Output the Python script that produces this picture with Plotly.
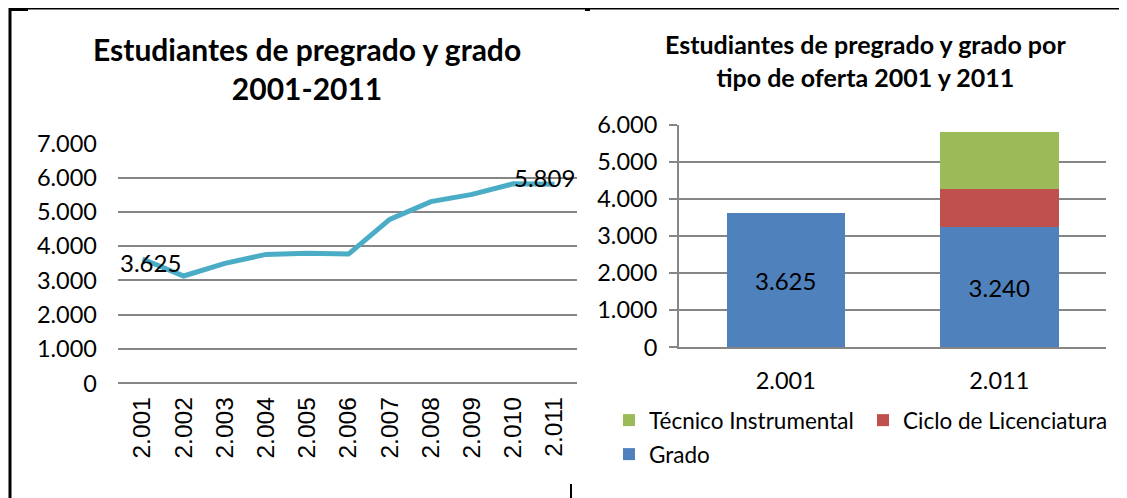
import plotly.graph_objects as go

W, H = 1127, 498
OX, OY = 8, 8  # page body margin offset

# ---- data ----
years = ["2.001", "2.002", "2.003", "2.004", "2.005", "2.006",
         "2.007", "2.008", "2.009", "2.010", "2.011"]
students = [3625, 3130, 3500, 3760, 3790, 3770, 4780, 5300, 5510, 5820, 5809]

bar_years = ["2.001", "2.011"]
grado = [3625, 3240]
ciclo = [0, 1024]
tecnico = [0, 1545]

left_yticks = [0, 1000, 2000, 3000, 4000, 5000, 6000, 7000]
right_yticks = [0, 1000, 2000, 3000, 4000, 5000, 6000]

FONT = "Lato"
GRID = "#868686"
TICK = 23.5


def px(x):
    return (x - OX) / W


def py(y):
    return 1 - (y - OY) / H


def fmt(v):
    return f"{v:,}".replace(",", ".")


fig = go.Figure()

fig.add_trace(go.Scatter(
    x=years, y=students, mode="lines",
    line=dict(color="#4BACC6", width=5), xaxis="x", yaxis="y",
    showlegend=False, hoverinfo="skip"))

fig.add_trace(go.Bar(
    x=bar_years, y=grado, name="Grado", marker_color="#4F81BD",
    marker_line_width=0, legend="legend3",
    text=[fmt(v) for v in grado],
    texttemplate="%{text}", textposition="inside", insidetextanchor="middle",
    textfont=dict(family=FONT, size=24, color="black"),
    xaxis="x2", yaxis="y2", hoverinfo="skip"))
fig.add_trace(go.Bar(
    x=bar_years, y=ciclo, name="Ciclo de Licenciatura", marker_color="#C0504D",
    marker_line_width=0, legend="legend2",
    xaxis="x2", yaxis="y2", hoverinfo="skip"))
fig.add_trace(go.Bar(
    x=bar_years, y=tecnico, name="Técnico Instrumental", marker_color="#9BBB59",
    marker_line_width=0, legend="legend",
    xaxis="x2", yaxis="y2", hoverinfo="skip"))

annotations = [
    dict(text="<b>Estudiantes de pregrado y grado<br>2001-2011</b>",
         x=px(307), y=py(69), xref="paper", yref="paper", showarrow=False,
         xanchor="center", yanchor="middle",
         font=dict(family=FONT, size=30, color="black"), align="center"),
    dict(text="<b>Estudiantes de pregrado y grado por<br>tipo de oferta 2001 y 2011</b>",
         x=px(865), y=py(61), xref="paper", yref="paper", showarrow=False,
         xanchor="center", yanchor="middle",
         font=dict(family=FONT, size=25, color="black"), align="center"),
    dict(text=fmt(students[0]), x=0, y=students[0],
         xref="x", yref="y", showarrow=False, xshift=8, yshift=-3,
         xanchor="center", yanchor="middle",
         font=dict(family=FONT, size=24, color="black")),
    dict(text=fmt(students[-1]), x=len(years) - 1, y=students[-1],
         xref="x", yref="y", showarrow=False, xshift=-10, yshift=7,
         xanchor="center", yanchor="middle",
         font=dict(family=FONT, size=24, color="black")),
]


def line(x0, y0, x1, y1, w=2):
    return dict(type="line", xref="paper", yref="paper",
                x0=px(x0), y0=py(y0), x1=px(x1), y1=py(y1),
                line=dict(color="black", width=w))


shapes = [
    line(9, 8.5, 1127, 8.5, 2),
    line(9, 10, 28, 10, 2),
    line(585, 10, 590, 10, 2),
    line(10, 8, 10, 498, 3),
    line(571, 484, 571, 498, 2),
    line(1126, 483, 1126, 498, 2),
]

leg_common = dict(orientation="h", xanchor="left", yanchor="top",
                  font=dict(family=FONT, size=22.5), bgcolor="rgba(0,0,0,0)")

fig.update_layout(
    width=W, height=H,
    margin=dict(l=0, r=0, t=0, b=0, autoexpand=False),
    paper_bgcolor="white", plot_bgcolor="white",
    separators=",.",
    font=dict(family=FONT, size=22, color="black"),
    barmode="stack", bargap=0.445,
    xaxis=dict(domain=[px(118), px(577)], type="category",
               tickangle=-90, showgrid=False, showline=False, ticks="",
               tickfont=dict(family="Liberation Sans", size=24.5),
               ticklabelstandoff=8,
               automargin=False, anchor="y"),
    yaxis=dict(domain=[py(383.3), py(143.3)], range=[0, 7000],
               tickvals=left_yticks, tickformat=",d",
               showgrid=True, gridcolor=GRID, gridwidth=2,
               zeroline=True, zerolinecolor=GRID, zerolinewidth=2,
               showline=False, ticks="", anchor="x", automargin=False,
               ticklabelstandoff=20,
               tickfont=dict(family=FONT, size=TICK)),
    xaxis2=dict(domain=[px(679), px(1106)], type="category",
                showgrid=False, showline=True, linecolor=GRID, linewidth=2,
                ticks="", anchor="y2", automargin=False,
                ticklabelstandoff=11,
                tickfont=dict(family=FONT, size=TICK)),
    yaxis2=dict(domain=[py(347.3), py(124.7)], range=[0, 6000],
                tickvals=right_yticks, tickformat=",d",
                showgrid=True, gridcolor=GRID, gridwidth=2,
                zeroline=False, showline=True, linecolor=GRID, linewidth=2,
                ticks="outside", ticklen=8, tickcolor=GRID, tickwidth=2,
                anchor="x2", automargin=False, ticklabelstandoff=7,
                tickfont=dict(family=FONT, size=TICK)),
    legend=dict(x=px(609), y=py(399), **leg_common),
    legend2=dict(x=px(863), y=py(399), **leg_common),
    legend3=dict(x=px(609), y=py(433), **leg_common),
    annotations=annotations,
    shapes=shapes,
)

fig.write_html("out.html")
